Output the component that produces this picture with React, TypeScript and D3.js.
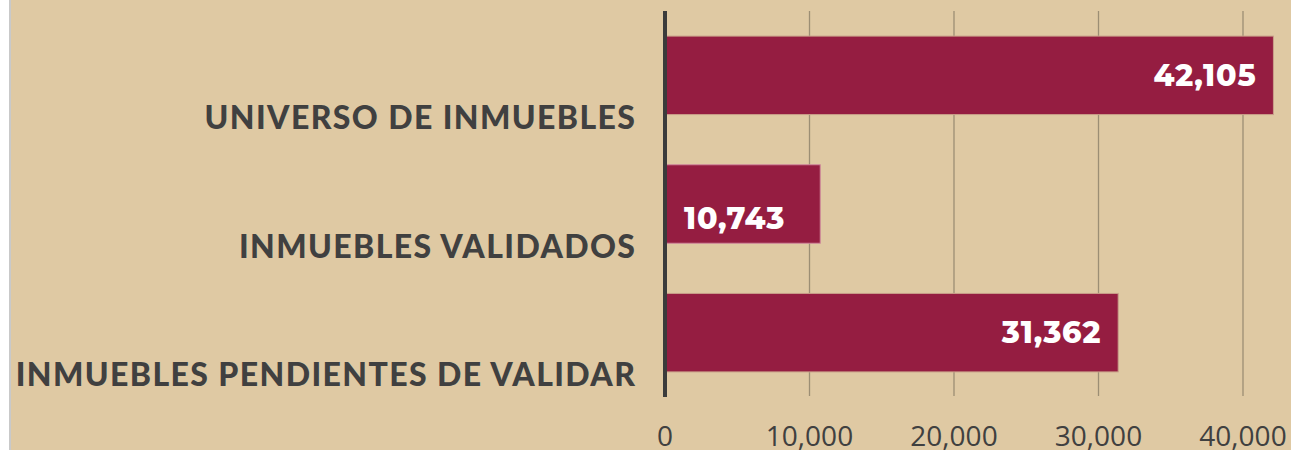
import React from 'react';
import * as d3 from 'd3';

const categories = ['UNIVERSO DE INMUEBLES', 'INMUEBLES VALIDADOS', 'INMUEBLES PENDIENTES DE VALIDAR'];
const values = [42105, 10743, 31362];
const xTicks = [0, 10000, 20000, 30000, 40000];

const W = 1291;
const H = 450;
const margin = {top: 11, right: 48, bottom: 53, left: 665};

const App = () => {
    const innerH = H - margin.top - margin.bottom;

    const x = d3.scaleLinear().domain([0, 40000]).range([0, 578]);
    const y = d3.scaleBand().domain(categories).range([0, innerH]).paddingInner(0.39).paddingOuter(0.195);
    const fmt = d3.format(',');

    return (
        <svg width={W} height={H} style={{position: 'absolute', left: 0, top: 0}}>
            <rect x={0} y={0} width={W} height={H} fill="#ffffff" />
            <rect x={9} y={0} width={2} height={H} fill="#c9c9c9" />
            <rect x={11} y={0} width={W - 11} height={H} fill="#dfc9a3" />
            <g transform={`translate(${margin.left},${margin.top})`}>
                {xTicks.filter(t => t > 0).map(t => (
                    <line key={t} x1={x(t)} x2={x(t)} y1={0} y2={innerH - 1} stroke="#9c8e74" strokeWidth={1.3} />
                ))}
                {categories.map((c, i) => (
                    <rect key={c} x={0} y={y(c)} width={x(values[i])} height={y.bandwidth()}
                          fill="#951d41" stroke={i === 1 ? '#d0899c' : '#c9a08a'} strokeWidth={1} />
                ))}
                <line x1={0} x2={0} y1={0} y2={innerH} stroke="#3b3b3b" strokeWidth={4} />
                {categories.map((c, i) => {
                    const w = x(values[i]);
                    const small = w < 200;
                    const cy = y(c) + y.bandwidth() / 2 + (small ? 14 : 0);
                    return (
                        <text key={c} x={small ? 19 : w - 17} y={cy} dy="0.36em"
                              textAnchor={small ? 'start' : 'end'} fill="#ffffff" letterSpacing={0.8}
                              fontFamily="Montserrat, 'Open Sans', sans-serif" fontWeight={800} fontSize={30}>
                            {fmt(values[i])}
                        </text>
                    );
                })}
                {categories.map(c => (
                    <text key={c} x={-28.6} y={y(c) + y.bandwidth() / 2 + 42} dy="0.36em" textAnchor="end"
                          fill="#404040" fontFamily="Lato, sans-serif" fontWeight={900} fontSize={32}
                          letterSpacing={1.4}>
                        {c}
                    </text>
                ))}
                {xTicks.map(t => (
                    <text key={t} x={x(t)} y={innerH + 49} textAnchor="middle" fill="#404040"
                          fontFamily="'Open Sans', sans-serif" fontSize={28}>
                        {fmt(t)}
                    </text>
                ))}
            </g>
        </svg>
    );
};

export default App;
